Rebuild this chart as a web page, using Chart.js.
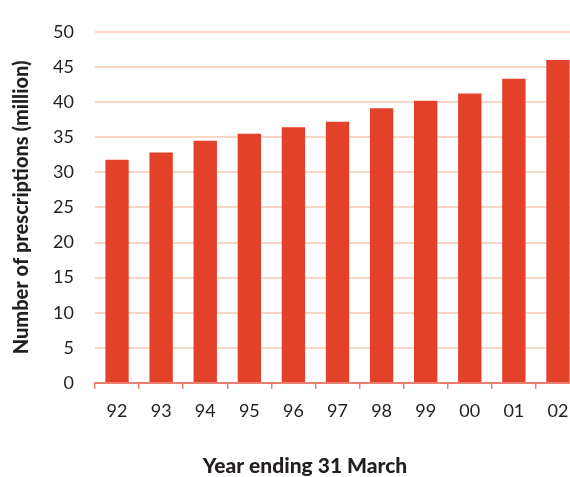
<!DOCTYPE html>
<html>
<head>
<meta charset="utf-8">
<script src="https://cdn.jsdelivr.net/npm/chart.js@4.4.1/dist/chart.umd.min.js"></script>
<style>
  html, body { margin: 0; padding: 0; background: #ffffff; overflow: hidden; }
  #wrap { width: 580px; height: 477px; position: relative; }
</style>
</head>
<body>
<div id="wrap"><canvas id="c" width="580" height="477"></canvas></div>
<script>
// Prescriptions dispensed, year ending 31 March
const years = ['92', '93', '94', '95', '96', '97', '98', '99', '00', '01', '02'];
const prescriptions = [31.8, 32.8, 34.5, 35.5, 36.4, 37.2, 39.1, 40.2, 41.2, 43.3, 46.0];
const yTicks = [0, 5, 10, 15, 20, 25, 30, 35, 40, 45, 50];
const xTitle = 'Year ending 31 March';
const yTitle = 'Number of prescriptions (million)';

const textColor = '#231f20';
const barColor = '#e4412b';
const gridColor = '#f9d6c7';
const axisColor = '#ec7f72';
const fontFamily = 'Lato, "Open Sans", sans-serif';

// Horizontal axis title, set a little left of the plot centre
const xTitlePlugin = {
  id: 'xTitle',
  afterDraw(chart) {
    const { ctx, chartArea } = chart;
    ctx.save();
    ctx.fillStyle = textColor;
    ctx.font = `900 21px ${fontFamily}`;
    ctx.textAlign = 'center';
    ctx.textBaseline = 'middle';
    ctx.fillText(xTitle, chartArea.left + 210, 466);
    ctx.restore();
  }
};

new Chart(document.getElementById('c'), {
  type: 'bar',
  data: {
    labels: years,
    datasets: [{
      data: prescriptions,
      backgroundColor: barColor,
      borderWidth: 0,
      categoryPercentage: 1,
      barPercentage: 0.53
    }]
  },
  plugins: [xTitlePlugin],
  options: {
    responsive: false,
    animation: false,
    devicePixelRatio: 1,
    layout: { padding: { top: 31, right: 0, left: 0, bottom: 0 } },
    plugins: { legend: { display: false }, tooltip: { enabled: false } },
    scales: {
      x: {
        offset: true,
        grid: {
          offset: true,
          drawOnChartArea: false,
          tickLength: 6,
          color: axisColor,
          lineWidth: 1.5
        },
        border: { display: true, color: axisColor, width: 2 },
        ticks: {
          color: textColor,
          font: { family: fontFamily, size: 18 },
          padding: 11,
          maxRotation: 0
        },
        afterFit: (s) => { s.height = 94; }
      },
      y: {
        min: 0,
        max: 50,
        afterBuildTicks: (s) => { s.ticks = yTicks.map(v => ({ value: v })); },
        grid: {
          color: (ctx) => ctx.tick && ctx.tick.value === 0 ? 'rgba(0,0,0,0)' : gridColor,
          lineWidth: 2,
          tickLength: 0,
          drawTicks: false
        },
        border: { display: false },
        ticks: {
          color: textColor,
          font: { family: fontFamily, size: 18 },
          padding: 21
        },
        title: {
          display: true,
          text: yTitle,
          color: textColor,
          font: { family: fontFamily, size: 20, weight: 900 },
          padding: { top: 10, bottom: 0 }
        },
        afterFit: (s) => { s.width = 95; }
      }
    }
  }
});
</script>
</body>
</html>
